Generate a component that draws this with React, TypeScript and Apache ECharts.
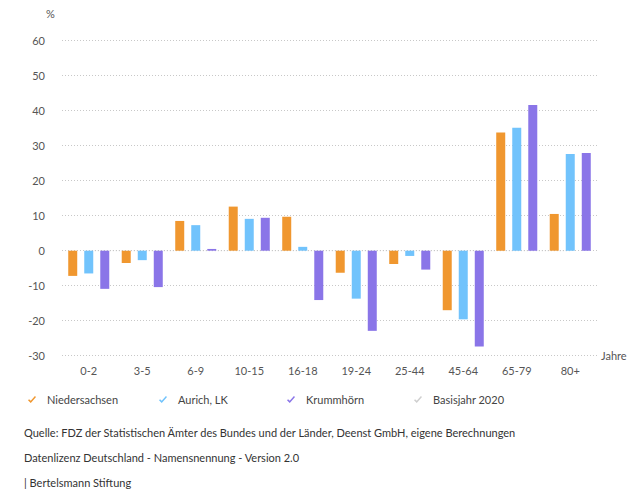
import React, { useEffect, useRef } from "react";
import * as echarts from "echarts";

const categories = ["0-2", "3-5", "6-9", "10-15", "16-18", "19-24", "25-44", "45-64", "65-79", "80+"];
const niedersachsen = [-7.2, -3.5, 8.5, 12.6, 9.7, -6.3, -3.8, -17.0, 33.8, 10.5];
const aurich = [-6.5, -2.7, 7.3, 9.1, 1.1, -13.7, -1.5, -19.6, 35.1, 27.6];
const krummhoern = [-10.9, -10.4, 0.5, 9.4, -14.1, -22.9, -5.4, -27.4, 41.6, 27.9];
const basisjahr = [0, 0, 0, 0, 0, 0, 0, 0, 0, 0];
const seriesNames = ["Niedersachsen", "Aurich, LK", "Krummhörn", "Basisjahr 2020"];
const footerLines = [
  "Quelle: FDZ der Statistischen Ämter des Bundes und der Länder, Deenst GmbH, eigene Berechnungen",
  "Datenlizenz Deutschland - Namensnennung - Version 2.0",
  "| Bertelsmann Stiftung",
];

const FONT = "Lato";
const COLORS = ["#F0972F", "#71C3FC", "#8A75E8", "#CFCFCF"];
const CHECK = "path://M0,4.6 L1.2,3.4 L3.1,5.3 L7.8,0 L9,1.1 L3.1,7.6 Z";

export default function App() {
  const ref = useRef<HTMLDivElement>(null);
  useEffect(() => {
    if (!ref.current) return;
    const chart = echarts.init(ref.current, undefined, { renderer: "svg" });
    const legendLefts = [28, 159, 287, 414];
    chart.setOption({
      animation: false,
      color: COLORS,
      textStyle: { fontFamily: FONT },
      grid: { left: 62, right: 46, top: 40.7, bottom: 133.3, containLabel: false },
      legend: seriesNames.map((n, i) => ({
        data: [n],
        left: legendLefts[i],
        top: 394,
        padding: 0,
        icon: CHECK,
        itemWidth: 8,
        itemHeight: 7,
        selectedMode: false,
        textStyle: { fontFamily: FONT, fontSize: 11, color: "#444", padding: [0, 0, 0, 6] },
      })),
      xAxis: {
        type: "category",
        data: categories,
        name: "Jahre",
        nameLocation: "end",
        nameGap: 4,
        nameTextStyle: { fontFamily: FONT, fontSize: 11, color: "#555" },
        axisLine: { show: false, onZero: false },
        axisTick: { show: false },
        axisLabel: { fontFamily: FONT, fontSize: 11, color: "#555", margin: 9 },
      },
      yAxis: {
        type: "value",
        min: -30,
        max: 60,
        interval: 10,
        axisLine: { show: false },
        axisTick: { show: false },
        axisLabel: { fontFamily: FONT, fontSize: 11, color: "#555", margin: 17 },
        splitLine: { lineStyle: { color: "#C8C8C8", type: [1, 2], width: 1 } },
      },
      series: [
        { name: seriesNames[0], type: "bar", data: niedersachsen, barWidth: 9, barGap: "78%", itemStyle: { color: COLORS[0] } },
        { name: seriesNames[1], type: "bar", data: aurich, barWidth: 9, barGap: "78%", itemStyle: { color: COLORS[1] } },
        { name: seriesNames[2], type: "bar", data: krummhoern, barWidth: 9, barGap: "78%", itemStyle: { color: COLORS[2] } },
        {
          name: seriesNames[3],
          type: "line",
          data: basisjahr,
          symbol: "none",
          z: 1,
          itemStyle: { color: COLORS[3] },
          lineStyle: { color: "#C8C8C8", width: 1, type: [1, 2] },
        },
      ],
      graphic: [
        {
          type: "text",
          left: 46,
          top: 8,
          style: { text: "%", fontFamily: FONT, fontSize: 11, fill: "#555" },
        },
        ...footerLines.map((t, i) => ({
          type: "text",
          x: 24,
          y: [432, 457, 482][i],
          style: { text: t, fontFamily: FONT, fontSize: 11, fill: "#333", verticalAlign: "middle" },
        })),
      ],
    });
    return () => chart.dispose();
  }, []);
  return <div ref={ref} style={{ width: 643, height: 489, position: "absolute", left: 0, top: 0 }} />;
}
